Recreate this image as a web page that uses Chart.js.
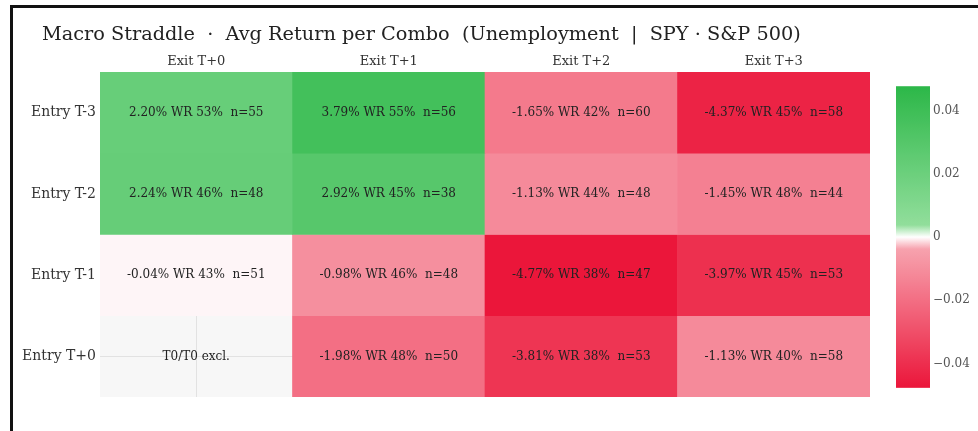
<!DOCTYPE html>
<html><head><meta charset="utf-8">
<script src="https://cdn.jsdelivr.net/npm/chart.js@4.4.1/dist/chart.umd.min.js"></script>
<style>
html,body{margin:0;padding:0;background:#fff;overflow:hidden}
#wrap{position:relative;width:978px;height:431px}
#frame{position:absolute;left:10px;top:5px;right:0;bottom:0;border-top:3px solid #111;border-left:3px solid #111;pointer-events:none}
</style></head>
<body><div id="wrap"><canvas id="c" width="978" height="431"></canvas><div id="frame"></div></div>
<script>
// ---- data ----
const exitLabels = ['Exit T+0', 'Exit T+1', 'Exit T+2', 'Exit T+3'];
const entryLabels = ['Entry T-3', 'Entry T-2', 'Entry T-1', 'Entry T+0'];
const retT3 = [0.0220, 0.0379, -0.0165, -0.0437];
const retT2 = [0.0224, 0.0292, -0.0113, -0.0145];
const retT1 = [-0.0004, -0.0098, -0.0477, -0.0397];
const retT0 = [null, -0.0198, -0.0381, -0.0113];
const wrT3 = [53, 55, 42, 45];
const wrT2 = [46, 45, 44, 48];
const wrT1 = [43, 46, 38, 45];
const wrT0 = [null, 48, 38, 40];
const nT3 = [55, 56, 60, 58];
const nT2 = [48, 38, 48, 44];
const nT1 = [51, 48, 47, 53];
const nT0 = [null, 50, 53, 58];
const excludedLabel = 'T0/T0 excl.';
const colorbarTicks = [-0.04, -0.02, 0, 0.02, 0.04];
const zMin = -0.0477, zMax = 0.0477;
const titleText = 'Macro Straddle  \u00B7  Avg Return per Combo  (Unemployment  |  SPY \u00B7 S&P 500)';

const returns = [retT3, retT2, retT1, retT0];
const winRates = [wrT3, wrT2, wrT1, wrT0];
const counts = [nT3, nT2, nT1, nT0];

// colour scale
const stops = [
  [0, [235, 22, 58]],
  [0.46, [247, 162, 174]],
  [0.5, [255, 255, 255]],
  [0.54, [145, 222, 155]],
  [1, [44, 183, 72]]
];
function colorAt(t) {
  t = Math.max(0, Math.min(1, t));
  for (let i = 1; i < stops.length; i++) {
    if (t <= stops[i][0]) {
      const [t0, c0] = stops[i - 1], [t1, c1] = stops[i];
      const f = (t - t0) / (t1 - t0);
      const c = c0.map((v, k) => Math.round(v + (c1[k] - v) * f));
      return `rgb(${c[0]},${c[1]},${c[2]})`;
    }
  }
  const c = stops[stops.length - 1][1];
  return `rgb(${c[0]},${c[1]},${c[2]})`;
}
const norm = v => (v - zMin) / (zMax - zMin);

const FONT = "'DejaVu Serif', 'Liberation Serif', serif";

const datasets = returns.map((row, r) => ({
  label: entryLabels[r],
  data: row.map(v => v == null ? null : [r, r + 1]),
  backgroundColor: row.map(v => v == null ? 'rgba(0,0,0,0)' : colorAt(norm(v))),
  borderWidth: 0,
  barPercentage: 1,
  categoryPercentage: 1,
  grouped: false
}));

const heatPlugin = {
  id: 'heat',
  beforeDraw(chart) {
    const {ctx, chartArea: a} = chart;
    ctx.save();
    ctx.fillStyle = '#f7f7f7';
    ctx.fillRect(a.left, a.top, a.right - a.left, a.bottom - a.top);
    ctx.restore();
  },
  afterDatasetsDraw(chart) {
    const {ctx} = chart;
    ctx.save();
    ctx.font = `12px ${FONT}`;
    ctx.fillStyle = '#222';
    ctx.textAlign = 'center';
    ctx.textBaseline = 'middle';
    returns.forEach((row, r) => {
      const meta = chart.getDatasetMeta(r);
      row.forEach((v, j) => {
        if (v == null) return;
        const el = meta.data[j];
        const txt = `${(v * 100).toFixed(2)}% WR ${winRates[r][j]}%  n=${counts[r][j]}`;
        ctx.fillText(txt, el.x, (el.y + el.base) / 2);
      });
    });
    const xs = chart.scales.x, ys = chart.scales.y;
    returns.forEach((row, r) => row.forEach((v, j) => {
      if (v == null) ctx.fillText(excludedLabel, xs.getPixelForValue(j), ys.getPixelForValue(r + 0.5));
    }));
    ctx.restore();
  },
  afterDraw(chart) {
    const {ctx} = chart;
    const cb = chart.scales.cb;
    ctx.save();
    const x0 = cb.left + 26, w = 34;
    const yTop = cb.getPixelForValue(zMax), yBot = cb.getPixelForValue(zMin);
    const g = ctx.createLinearGradient(0, yBot, 0, yTop);
    for (let i = 0; i <= 100; i++) g.addColorStop(i / 100, colorAt(i / 100));
    ctx.fillStyle = g;
    ctx.fillRect(x0, yTop, w, yBot - yTop);
    ctx.font = `19.3px ${FONT}`;
    ctx.fillStyle = '#222';
    ctx.textAlign = 'left';
    ctx.textBaseline = 'middle';
    ctx.fillText(titleText, 42, 35);
    ctx.restore();
  }
};

new Chart(document.getElementById('c'), {
  type: 'bar',
  data: {labels: exitLabels, datasets},
  options: {
    responsive: false,
    animation: false,
    devicePixelRatio: 1,
    layout: {padding: {top: 0, left: 0, right: 0, bottom: 34}},
    plugins: {legend: {display: false}, tooltip: {enabled: false}, title: {display: false}},
    scales: {
      x: {
        position: 'top',
        offset: true,
        grid: {display: true, offset: false, drawTicks: false, color: '#e2e2e2', lineWidth: 1},
        border: {display: false},
        ticks: {font: {family: FONT, size: 13}, color: '#333', padding: 3},
        afterFit(s) { s.height = 72; s.paddingLeft = 0; s.paddingRight = 0; }
      },
      y: {
        type: 'linear',
        reverse: true,
        min: 0, max: 4,
        grid: {display: true, drawTicks: false, color: '#e2e2e2', lineWidth: 1},
        border: {display: false},
        afterBuildTicks(s) { s.ticks = entryLabels.map((_, i) => ({value: i + 0.5})); },
        ticks: {
          font: {family: FONT, size: 14}, color: '#333', padding: 4,
          callback: v => entryLabels[Math.floor(v)]
        },
        afterFit(s) { s.width = 100; s.paddingTop = 0; s.paddingBottom = 0; }
      },
      cb: {
        type: 'linear',
        position: 'right',
        min: -0.0506, max: 0.0522,
        grid: {display: false, drawTicks: false},
        border: {display: false},
        afterBuildTicks(s) { s.ticks = colorbarTicks.map(v => ({value: v})); },
        ticks: {
          font: {family: FONT, size: 12}, color: '#555', padding: 63,
          callback: v => v === 0 ? '0' : (v < 0 ? '\u2212' : '') + Math.abs(v).toFixed(2)
        },
        afterFit(s) { s.width = 108; s.paddingTop = 0; s.paddingBottom = 0; }
      }
    }
  },
  plugins: [heatPlugin]
});
</script>
</body></html>
